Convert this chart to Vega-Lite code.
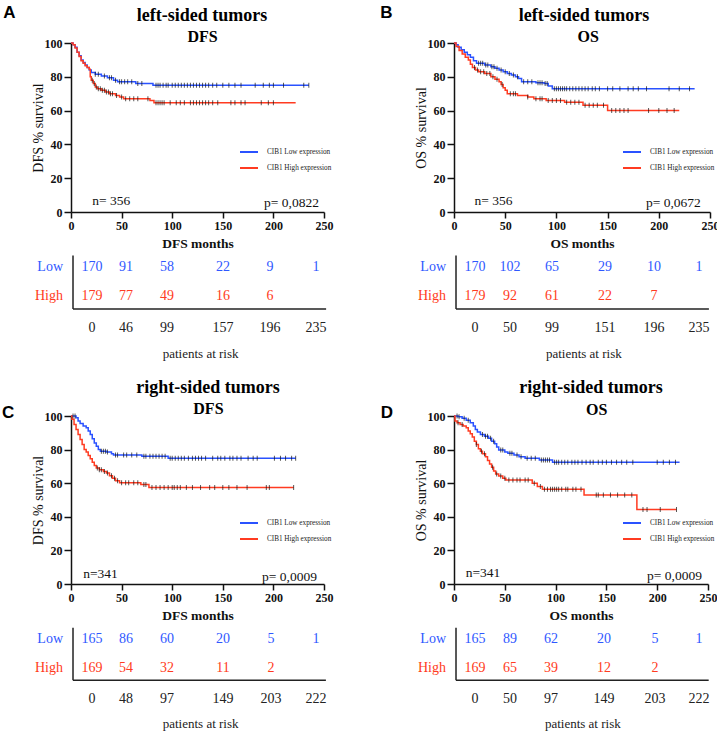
{
"$schema": "https://vega.github.io/schema/vega-lite/v6.json",
"padding": {"left": 2, "top": 4, "right": 0, "bottom": 0},
"background": "white",
"config": {
  "view": {"stroke": null},
  "axis": {"labelFont": "Liberation Serif", "labelFontWeight": "bold", "labelFontSize": 12, "labelColor": "#111", "domainColor": "#111", "tickColor": "#111", "domainWidth": 1.5, "tickWidth": 1.5, "grid": false, "titleFont": "Liberation Serif", "titleColor": "#111", "labelFlush": false, "labelOverlap": false}
},
"datasets": {
"km": [
{"p":"A","g":"Low","t":0,"s":100},{"p":"A","g":"Low","t":2,"s":99},{"p":"A","g":"Low","t":4,"s":97.5},{"p":"A","g":"Low","t":6,"s":94.5},{"p":"A","g":"Low","t":8,"s":92.5},{"p":"A","g":"Low","t":10,"s":90},{"p":"A","g":"Low","t":12,"s":88.5},{"p":"A","g":"Low","t":14,"s":87},{"p":"A","g":"Low","t":16,"s":85.5},{"p":"A","g":"Low","t":18,"s":84},{"p":"A","g":"Low","t":20,"s":82.5},{"p":"A","g":"Low","t":24,"s":81.5},{"p":"A","g":"Low","t":30,"s":80.5},{"p":"A","g":"Low","t":36,"s":79.5},{"p":"A","g":"Low","t":42,"s":78},{"p":"A","g":"Low","t":46,"s":77},{"p":"A","g":"Low","t":64,"s":76},{"p":"A","g":"Low","t":81,"s":75},{"p":"A","g":"Low","t":235,"s":75},
{"p":"A","g":"High","t":0,"s":100},{"p":"A","g":"High","t":2,"s":99},{"p":"A","g":"High","t":4,"s":97},{"p":"A","g":"High","t":6,"s":94.5},{"p":"A","g":"High","t":8,"s":92},{"p":"A","g":"High","t":10,"s":89.5},{"p":"A","g":"High","t":12,"s":88},{"p":"A","g":"High","t":14,"s":86.5},{"p":"A","g":"High","t":16,"s":85.5},{"p":"A","g":"High","t":18,"s":84.5},{"p":"A","g":"High","t":19,"s":80},{"p":"A","g":"High","t":20,"s":78},{"p":"A","g":"High","t":22,"s":76},{"p":"A","g":"High","t":24,"s":74},{"p":"A","g":"High","t":26,"s":73},{"p":"A","g":"High","t":30,"s":72},{"p":"A","g":"High","t":34,"s":71},{"p":"A","g":"High","t":38,"s":70},{"p":"A","g":"High","t":44,"s":69},{"p":"A","g":"High","t":48,"s":68},{"p":"A","g":"High","t":52,"s":67},{"p":"A","g":"High","t":78,"s":66},{"p":"A","g":"High","t":82,"s":64.6},{"p":"A","g":"High","t":222,"s":64.6},
{"p":"B","g":"Low","t":0,"s":100},{"p":"B","g":"Low","t":2,"s":99},{"p":"B","g":"Low","t":4,"s":97.5},{"p":"B","g":"Low","t":7,"s":96},{"p":"B","g":"Low","t":10,"s":94.5},{"p":"B","g":"Low","t":13,"s":93},{"p":"B","g":"Low","t":16,"s":91.5},{"p":"B","g":"Low","t":19,"s":89.5},{"p":"B","g":"Low","t":22,"s":88},{"p":"B","g":"Low","t":30,"s":87},{"p":"B","g":"Low","t":36,"s":86},{"p":"B","g":"Low","t":40,"s":85},{"p":"B","g":"Low","t":44,"s":84},{"p":"B","g":"Low","t":48,"s":83},{"p":"B","g":"Low","t":52,"s":82},{"p":"B","g":"Low","t":56,"s":81},{"p":"B","g":"Low","t":60,"s":80},{"p":"B","g":"Low","t":63,"s":79},{"p":"B","g":"Low","t":66,"s":77},{"p":"B","g":"Low","t":80,"s":76.5},{"p":"B","g":"Low","t":88,"s":76},{"p":"B","g":"Low","t":92,"s":74.5},{"p":"B","g":"Low","t":96,"s":73},{"p":"B","g":"Low","t":235,"s":73},
{"p":"B","g":"High","t":0,"s":100},{"p":"B","g":"High","t":2,"s":98},{"p":"B","g":"High","t":5,"s":95.5},{"p":"B","g":"High","t":8,"s":93.5},{"p":"B","g":"High","t":11,"s":91.5},{"p":"B","g":"High","t":14,"s":90},{"p":"B","g":"High","t":16,"s":87.5},{"p":"B","g":"High","t":18,"s":85.5},{"p":"B","g":"High","t":21,"s":84},{"p":"B","g":"High","t":24,"s":83},{"p":"B","g":"High","t":30,"s":82},{"p":"B","g":"High","t":36,"s":80},{"p":"B","g":"High","t":40,"s":78.5},{"p":"B","g":"High","t":44,"s":77},{"p":"B","g":"High","t":46,"s":75.5},{"p":"B","g":"High","t":48,"s":73.5},{"p":"B","g":"High","t":50,"s":72},{"p":"B","g":"High","t":52,"s":70},{"p":"B","g":"High","t":62,"s":69},{"p":"B","g":"High","t":72,"s":68},{"p":"B","g":"High","t":78,"s":67},{"p":"B","g":"High","t":90,"s":66},{"p":"B","g":"High","t":108,"s":65},{"p":"B","g":"High","t":126,"s":63.2},{"p":"B","g":"High","t":150,"s":60},{"p":"B","g":"High","t":220,"s":60},
{"p":"C","g":"Low","t":0,"s":100},{"p":"C","g":"Low","t":5,"s":99},{"p":"C","g":"Low","t":7,"s":97},{"p":"C","g":"Low","t":9,"s":95.5},{"p":"C","g":"Low","t":12,"s":94},{"p":"C","g":"Low","t":15,"s":93},{"p":"C","g":"Low","t":17,"s":91},{"p":"C","g":"Low","t":19,"s":89},{"p":"C","g":"Low","t":21,"s":86.5},{"p":"C","g":"Low","t":23,"s":84},{"p":"C","g":"Low","t":25,"s":82},{"p":"C","g":"Low","t":27,"s":80},{"p":"C","g":"Low","t":29,"s":79},{"p":"C","g":"Low","t":35,"s":78.5},{"p":"C","g":"Low","t":40,"s":77.5},{"p":"C","g":"Low","t":42,"s":76.8},{"p":"C","g":"Low","t":70,"s":76},{"p":"C","g":"Low","t":96,"s":74.8},{"p":"C","g":"Low","t":222,"s":74.8},
{"p":"C","g":"High","t":0,"s":100},{"p":"C","g":"High","t":1,"s":98},{"p":"C","g":"High","t":3,"s":95},{"p":"C","g":"High","t":5,"s":92},{"p":"C","g":"High","t":7,"s":89},{"p":"C","g":"High","t":9,"s":86},{"p":"C","g":"High","t":11,"s":83},{"p":"C","g":"High","t":13,"s":80},{"p":"C","g":"High","t":15,"s":78.5},{"p":"C","g":"High","t":17,"s":76.5},{"p":"C","g":"High","t":19,"s":74.5},{"p":"C","g":"High","t":21,"s":72.5},{"p":"C","g":"High","t":23,"s":70.5},{"p":"C","g":"High","t":25,"s":69},{"p":"C","g":"High","t":28,"s":68},{"p":"C","g":"High","t":32,"s":67},{"p":"C","g":"High","t":35,"s":66},{"p":"C","g":"High","t":38,"s":64.5},{"p":"C","g":"High","t":41,"s":63},{"p":"C","g":"High","t":44,"s":61.5},{"p":"C","g":"High","t":48,"s":60.3},{"p":"C","g":"High","t":69,"s":59.3},{"p":"C","g":"High","t":77,"s":57.5},{"p":"C","g":"High","t":220,"s":57.5},
{"p":"D","g":"Low","t":0,"s":100},{"p":"D","g":"Low","t":4,"s":99.5},{"p":"D","g":"Low","t":8,"s":98.6},{"p":"D","g":"Low","t":12,"s":97.5},{"p":"D","g":"Low","t":16,"s":96},{"p":"D","g":"Low","t":19,"s":94},{"p":"D","g":"Low","t":21,"s":92},{"p":"D","g":"Low","t":23,"s":90.5},{"p":"D","g":"Low","t":26,"s":89},{"p":"D","g":"Low","t":30,"s":88},{"p":"D","g":"Low","t":34,"s":86.7},{"p":"D","g":"Low","t":37,"s":85},{"p":"D","g":"Low","t":40,"s":83.5},{"p":"D","g":"Low","t":42,"s":81.5},{"p":"D","g":"Low","t":44,"s":79.8},{"p":"D","g":"Low","t":50,"s":78.5},{"p":"D","g":"Low","t":53,"s":77.8},{"p":"D","g":"Low","t":59,"s":76.8},{"p":"D","g":"Low","t":64,"s":75.8},{"p":"D","g":"Low","t":70,"s":74.8},{"p":"D","g":"Low","t":84,"s":73.8},{"p":"D","g":"Low","t":97,"s":72.4},{"p":"D","g":"Low","t":222,"s":72.4},
{"p":"D","g":"High","t":0,"s":100},{"p":"D","g":"High","t":1,"s":97},{"p":"D","g":"High","t":3,"s":96},{"p":"D","g":"High","t":6,"s":95},{"p":"D","g":"High","t":9,"s":94},{"p":"D","g":"High","t":12,"s":93},{"p":"D","g":"High","t":14,"s":91},{"p":"D","g":"High","t":16,"s":89.5},{"p":"D","g":"High","t":18,"s":87.5},{"p":"D","g":"High","t":20,"s":85},{"p":"D","g":"High","t":22,"s":83},{"p":"D","g":"High","t":24,"s":80.5},{"p":"D","g":"High","t":26,"s":79},{"p":"D","g":"High","t":28,"s":77.5},{"p":"D","g":"High","t":31,"s":75.8},{"p":"D","g":"High","t":33,"s":73.5},{"p":"D","g":"High","t":35,"s":71.5},{"p":"D","g":"High","t":37,"s":69.5},{"p":"D","g":"High","t":39,"s":67.3},{"p":"D","g":"High","t":41,"s":65.5},{"p":"D","g":"High","t":44,"s":64.3},{"p":"D","g":"High","t":48,"s":63},{"p":"D","g":"High","t":51,"s":61.9},{"p":"D","g":"High","t":77,"s":60},{"p":"D","g":"High","t":82,"s":58},{"p":"D","g":"High","t":87,"s":56.4},{"p":"D","g":"High","t":128,"s":53},{"p":"D","g":"High","t":180,"s":44.4},{"p":"D","g":"High","t":219,"s":44.4}
],
"cens": [
{"p":"A","t":24,"s":81.5},{"p":"A","t":27,"s":81.5},{"p":"A","t":33,"s":80.5},{"p":"A","t":38,"s":79.5},{"p":"A","t":40,"s":79.5},{"p":"A","t":44,"s":78},{"p":"A","t":48,"s":77},{"p":"A","t":50,"s":77},{"p":"A","t":53,"s":77},{"p":"A","t":56,"s":77},{"p":"A","t":60,"s":77},{"p":"A","t":66,"s":76},{"p":"A","t":70,"s":76},{"p":"A","t":84,"s":75},{"p":"A","t":86,"s":75},{"p":"A","t":88,"s":75},{"p":"A","t":91,"s":75},{"p":"A","t":94,"s":75},{"p":"A","t":96,"s":75},{"p":"A","t":100,"s":75},{"p":"A","t":103,"s":75},{"p":"A","t":106,"s":75},{"p":"A","t":109,"s":75},{"p":"A","t":112,"s":75},{"p":"A","t":115,"s":75},{"p":"A","t":118,"s":75},{"p":"A","t":121,"s":75},{"p":"A","t":124,"s":75},{"p":"A","t":127,"s":75},{"p":"A","t":130,"s":75},{"p":"A","t":133,"s":75},{"p":"A","t":136,"s":75},{"p":"A","t":140,"s":75},{"p":"A","t":144,"s":75},{"p":"A","t":150,"s":75},{"p":"A","t":156,"s":75},{"p":"A","t":162,"s":75},{"p":"A","t":168,"s":75},{"p":"A","t":182,"s":75},{"p":"A","t":190,"s":75},{"p":"A","t":196,"s":75},{"p":"A","t":200,"s":75},{"p":"A","t":210,"s":75},{"p":"A","t":230,"s":75},{"p":"A","t":235,"s":75},
{"p":"A","t":21,"s":78},{"p":"A","t":23,"s":76},{"p":"A","t":25,"s":74},{"p":"A","t":27,"s":73},{"p":"A","t":29,"s":73},{"p":"A","t":31,"s":72},{"p":"A","t":33,"s":72},{"p":"A","t":35,"s":71},{"p":"A","t":37,"s":71},{"p":"A","t":39,"s":70},{"p":"A","t":41,"s":70},{"p":"A","t":45,"s":69},{"p":"A","t":50,"s":68},{"p":"A","t":54,"s":67},{"p":"A","t":58,"s":67},{"p":"A","t":62,"s":67},{"p":"A","t":66,"s":67},{"p":"A","t":76,"s":67},{"p":"A","t":84,"s":64.6},{"p":"A","t":86,"s":64.6},{"p":"A","t":88,"s":64.6},{"p":"A","t":90,"s":64.6},{"p":"A","t":92,"s":64.6},{"p":"A","t":98,"s":64.6},{"p":"A","t":104,"s":64.6},{"p":"A","t":108,"s":64.6},{"p":"A","t":112,"s":64.6},{"p":"A","t":118,"s":64.6},{"p":"A","t":121,"s":64.6},{"p":"A","t":124,"s":64.6},{"p":"A","t":127,"s":64.6},{"p":"A","t":130,"s":64.6},{"p":"A","t":133,"s":64.6},{"p":"A","t":136,"s":64.6},{"p":"A","t":140,"s":64.6},{"p":"A","t":145,"s":64.6},{"p":"A","t":158,"s":64.6},{"p":"A","t":162,"s":64.6},{"p":"A","t":168,"s":64.6},{"p":"A","t":172,"s":64.6},{"p":"A","t":188,"s":64.6},{"p":"A","t":195,"s":64.6},{"p":"A","t":200,"s":64.6},
{"p":"B","t":24,"s":88},{"p":"B","t":26,"s":88},{"p":"B","t":28,"s":88},{"p":"B","t":31,"s":87},{"p":"B","t":33,"s":87},{"p":"B","t":37,"s":86},{"p":"B","t":39,"s":86},{"p":"B","t":42,"s":85},{"p":"B","t":46,"s":84},{"p":"B","t":50,"s":83},{"p":"B","t":54,"s":82},{"p":"B","t":58,"s":81},{"p":"B","t":62,"s":80},{"p":"B","t":68,"s":77},{"p":"B","t":72,"s":77},{"p":"B","t":76,"s":77},{"p":"B","t":82,"s":76.5},{"p":"B","t":84,"s":76.5},{"p":"B","t":86,"s":76.5},{"p":"B","t":89,"s":76},{"p":"B","t":91,"s":76},{"p":"B","t":98,"s":73},{"p":"B","t":100,"s":73},{"p":"B","t":102,"s":73},{"p":"B","t":104,"s":73},{"p":"B","t":106,"s":73},{"p":"B","t":108,"s":73},{"p":"B","t":110,"s":73},{"p":"B","t":113,"s":73},{"p":"B","t":116,"s":73},{"p":"B","t":119,"s":73},{"p":"B","t":122,"s":73},{"p":"B","t":125,"s":73},{"p":"B","t":128,"s":73},{"p":"B","t":131,"s":73},{"p":"B","t":135,"s":73},{"p":"B","t":138,"s":73},{"p":"B","t":142,"s":73},{"p":"B","t":150,"s":73},{"p":"B","t":155,"s":73},{"p":"B","t":162,"s":73},{"p":"B","t":170,"s":73},{"p":"B","t":175,"s":73},{"p":"B","t":180,"s":73},{"p":"B","t":188,"s":73},{"p":"B","t":210,"s":73},{"p":"B","t":220,"s":73},{"p":"B","t":230,"s":73},
{"p":"B","t":20,"s":85.5},{"p":"B","t":23,"s":84},{"p":"B","t":26,"s":83},{"p":"B","t":29,"s":83},{"p":"B","t":32,"s":82},{"p":"B","t":35,"s":82},{"p":"B","t":38,"s":80},{"p":"B","t":42,"s":78.5},{"p":"B","t":47,"s":75.5},{"p":"B","t":55,"s":70},{"p":"B","t":58,"s":70},{"p":"B","t":60,"s":70},{"p":"B","t":72,"s":68},{"p":"B","t":80,"s":67},{"p":"B","t":84,"s":67},{"p":"B","t":86,"s":67},{"p":"B","t":92,"s":66},{"p":"B","t":96,"s":66},{"p":"B","t":100,"s":66},{"p":"B","t":104,"s":66},{"p":"B","t":110,"s":65},{"p":"B","t":114,"s":65},{"p":"B","t":118,"s":65},{"p":"B","t":122,"s":65},{"p":"B","t":128,"s":63.2},{"p":"B","t":132,"s":63.2},{"p":"B","t":136,"s":63.2},{"p":"B","t":140,"s":63.2},{"p":"B","t":146,"s":63.2},{"p":"B","t":154,"s":60},{"p":"B","t":158,"s":60},{"p":"B","t":162,"s":60},{"p":"B","t":166,"s":60},{"p":"B","t":170,"s":60},{"p":"B","t":190,"s":60},{"p":"B","t":200,"s":60},{"p":"B","t":208,"s":60},{"p":"B","t":215,"s":60},
{"p":"C","t":2,"s":100},{"p":"C","t":4,"s":100},{"p":"C","t":30,"s":79},{"p":"C","t":32,"s":79},{"p":"C","t":34,"s":79},{"p":"C","t":36,"s":78.5},{"p":"C","t":44,"s":76.8},{"p":"C","t":46,"s":76.8},{"p":"C","t":52,"s":76.8},{"p":"C","t":55,"s":76.8},{"p":"C","t":60,"s":76.8},{"p":"C","t":65,"s":76.8},{"p":"C","t":72,"s":76},{"p":"C","t":74,"s":76},{"p":"C","t":78,"s":76},{"p":"C","t":81,"s":76},{"p":"C","t":84,"s":76},{"p":"C","t":87,"s":76},{"p":"C","t":90,"s":76},{"p":"C","t":93,"s":76},{"p":"C","t":98,"s":74.8},{"p":"C","t":100,"s":74.8},{"p":"C","t":103,"s":74.8},{"p":"C","t":106,"s":74.8},{"p":"C","t":109,"s":74.8},{"p":"C","t":112,"s":74.8},{"p":"C","t":116,"s":74.8},{"p":"C","t":120,"s":74.8},{"p":"C","t":123,"s":74.8},{"p":"C","t":126,"s":74.8},{"p":"C","t":129,"s":74.8},{"p":"C","t":133,"s":74.8},{"p":"C","t":140,"s":74.8},{"p":"C","t":145,"s":74.8},{"p":"C","t":148,"s":74.8},{"p":"C","t":152,"s":74.8},{"p":"C","t":157,"s":74.8},{"p":"C","t":160,"s":74.8},{"p":"C","t":164,"s":74.8},{"p":"C","t":168,"s":74.8},{"p":"C","t":175,"s":74.8},{"p":"C","t":180,"s":74.8},{"p":"C","t":184,"s":74.8},{"p":"C","t":201,"s":74.8},{"p":"C","t":207,"s":74.8},{"p":"C","t":212,"s":74.8},{"p":"C","t":218,"s":74.8},{"p":"C","t":222,"s":74.8},
{"p":"C","t":26,"s":69},{"p":"C","t":28,"s":68},{"p":"C","t":30,"s":68},{"p":"C","t":33,"s":67},{"p":"C","t":36,"s":66},{"p":"C","t":40,"s":64.5},{"p":"C","t":43,"s":63},{"p":"C","t":46,"s":61.5},{"p":"C","t":50,"s":60.3},{"p":"C","t":54,"s":60.3},{"p":"C","t":57,"s":60.3},{"p":"C","t":62,"s":60.3},{"p":"C","t":66,"s":60.3},{"p":"C","t":72,"s":59.3},{"p":"C","t":74,"s":59.3},{"p":"C","t":80,"s":57.5},{"p":"C","t":84,"s":57.5},{"p":"C","t":88,"s":57.5},{"p":"C","t":92,"s":57.5},{"p":"C","t":96,"s":57.5},{"p":"C","t":100,"s":57.5},{"p":"C","t":102,"s":57.5},{"p":"C","t":105,"s":57.5},{"p":"C","t":108,"s":57.5},{"p":"C","t":114,"s":57.5},{"p":"C","t":120,"s":57.5},{"p":"C","t":128,"s":57.5},{"p":"C","t":137,"s":57.5},{"p":"C","t":142,"s":57.5},{"p":"C","t":150,"s":57.5},{"p":"C","t":156,"s":57.5},{"p":"C","t":164,"s":57.5},{"p":"C","t":174,"s":57.5},{"p":"C","t":193,"s":57.5},{"p":"C","t":196,"s":57.5},{"p":"C","t":220,"s":57.5},
{"p":"D","t":3,"s":100},{"p":"D","t":5,"s":99.5},{"p":"D","t":10,"s":98.6},{"p":"D","t":14,"s":97.5},{"p":"D","t":28,"s":89},{"p":"D","t":31,"s":88},{"p":"D","t":33,"s":88},{"p":"D","t":36,"s":86.7},{"p":"D","t":39,"s":85},{"p":"D","t":46,"s":79.8},{"p":"D","t":48,"s":79.8},{"p":"D","t":55,"s":77.8},{"p":"D","t":57,"s":77.8},{"p":"D","t":62,"s":76.8},{"p":"D","t":66,"s":75.8},{"p":"D","t":72,"s":74.8},{"p":"D","t":76,"s":74.8},{"p":"D","t":80,"s":74.8},{"p":"D","t":86,"s":73.8},{"p":"D","t":88,"s":73.8},{"p":"D","t":90,"s":73.8},{"p":"D","t":92,"s":73.8},{"p":"D","t":94,"s":73.8},{"p":"D","t":99,"s":72.4},{"p":"D","t":101,"s":72.4},{"p":"D","t":103,"s":72.4},{"p":"D","t":106,"s":72.4},{"p":"D","t":109,"s":72.4},{"p":"D","t":112,"s":72.4},{"p":"D","t":116,"s":72.4},{"p":"D","t":119,"s":72.4},{"p":"D","t":122,"s":72.4},{"p":"D","t":126,"s":72.4},{"p":"D","t":130,"s":72.4},{"p":"D","t":134,"s":72.4},{"p":"D","t":137,"s":72.4},{"p":"D","t":142,"s":72.4},{"p":"D","t":146,"s":72.4},{"p":"D","t":150,"s":72.4},{"p":"D","t":155,"s":72.4},{"p":"D","t":160,"s":72.4},{"p":"D","t":165,"s":72.4},{"p":"D","t":170,"s":72.4},{"p":"D","t":176,"s":72.4},{"p":"D","t":200,"s":72.4},{"p":"D","t":206,"s":72.4},{"p":"D","t":212,"s":72.4},{"p":"D","t":218,"s":72.4},
{"p":"D","t":4,"s":96},{"p":"D","t":8,"s":95},{"p":"D","t":22,"s":83},{"p":"D","t":27,"s":79},{"p":"D","t":30,"s":77.5},{"p":"D","t":38,"s":69.5},{"p":"D","t":42,"s":65.5},{"p":"D","t":46,"s":64.3},{"p":"D","t":50,"s":63},{"p":"D","t":54,"s":61.9},{"p":"D","t":58,"s":61.9},{"p":"D","t":62,"s":61.9},{"p":"D","t":65,"s":61.9},{"p":"D","t":70,"s":61.9},{"p":"D","t":73,"s":61.9},{"p":"D","t":79,"s":60},{"p":"D","t":85,"s":58},{"p":"D","t":89,"s":56.4},{"p":"D","t":92,"s":56.4},{"p":"D","t":95,"s":56.4},{"p":"D","t":97,"s":56.4},{"p":"D","t":99,"s":56.4},{"p":"D","t":101,"s":56.4},{"p":"D","t":103,"s":56.4},{"p":"D","t":106,"s":56.4},{"p":"D","t":110,"s":56.4},{"p":"D","t":112,"s":56.4},{"p":"D","t":117,"s":56.4},{"p":"D","t":120,"s":56.4},{"p":"D","t":125,"s":56.4},{"p":"D","t":140,"s":53},{"p":"D","t":142,"s":53},{"p":"D","t":147,"s":53},{"p":"D","t":154,"s":53},{"p":"D","t":161,"s":53},{"p":"D","t":168,"s":53},{"p":"D","t":175,"s":53},{"p":"D","t":186,"s":44.4},{"p":"D","t":190,"s":44.4},{"p":"D","t":203,"s":44.4},{"p":"D","t":219,"s":44.4}
],
"risk": [
{"p":"A","row":"Low","r":1,"c":1,"n":170},{"p":"A","row":"Low","r":1,"c":2,"n":91},{"p":"A","row":"Low","r":1,"c":3,"n":58},{"p":"A","row":"Low","r":1,"c":4,"n":22},{"p":"A","row":"Low","r":1,"c":5,"n":9},{"p":"A","row":"Low","r":1,"c":6,"n":1},
{"p":"A","row":"High","r":2,"c":1,"n":179},{"p":"A","row":"High","r":2,"c":2,"n":77},{"p":"A","row":"High","r":2,"c":3,"n":49},{"p":"A","row":"High","r":2,"c":4,"n":16},{"p":"A","row":"High","r":2,"c":5,"n":6},
{"p":"A","row":"time","r":3,"c":1,"n":0},{"p":"A","row":"time","r":3,"c":2,"n":46},{"p":"A","row":"time","r":3,"c":3,"n":99},{"p":"A","row":"time","r":3,"c":4,"n":157},{"p":"A","row":"time","r":3,"c":5,"n":196},{"p":"A","row":"time","r":3,"c":6,"n":235},
{"p":"B","row":"Low","r":1,"c":1,"n":170},{"p":"B","row":"Low","r":1,"c":2,"n":102},{"p":"B","row":"Low","r":1,"c":3,"n":65},{"p":"B","row":"Low","r":1,"c":4,"n":29},{"p":"B","row":"Low","r":1,"c":5,"n":10},{"p":"B","row":"Low","r":1,"c":6,"n":1},
{"p":"B","row":"High","r":2,"c":1,"n":179},{"p":"B","row":"High","r":2,"c":2,"n":92},{"p":"B","row":"High","r":2,"c":3,"n":61},{"p":"B","row":"High","r":2,"c":4,"n":22},{"p":"B","row":"High","r":2,"c":5,"n":7},
{"p":"B","row":"time","r":3,"c":1,"n":0},{"p":"B","row":"time","r":3,"c":2,"n":50},{"p":"B","row":"time","r":3,"c":3,"n":99},{"p":"B","row":"time","r":3,"c":4,"n":151},{"p":"B","row":"time","r":3,"c":5,"n":196},{"p":"B","row":"time","r":3,"c":6,"n":235},
{"p":"C","row":"Low","r":1,"c":1,"n":165},{"p":"C","row":"Low","r":1,"c":2,"n":86},{"p":"C","row":"Low","r":1,"c":3,"n":60},{"p":"C","row":"Low","r":1,"c":4,"n":20},{"p":"C","row":"Low","r":1,"c":5,"n":5},{"p":"C","row":"Low","r":1,"c":6,"n":1},
{"p":"C","row":"High","r":2,"c":1,"n":169},{"p":"C","row":"High","r":2,"c":2,"n":54},{"p":"C","row":"High","r":2,"c":3,"n":32},{"p":"C","row":"High","r":2,"c":4,"n":11},{"p":"C","row":"High","r":2,"c":5,"n":2},
{"p":"C","row":"time","r":3,"c":1,"n":0},{"p":"C","row":"time","r":3,"c":2,"n":48},{"p":"C","row":"time","r":3,"c":3,"n":97},{"p":"C","row":"time","r":3,"c":4,"n":149},{"p":"C","row":"time","r":3,"c":5,"n":203},{"p":"C","row":"time","r":3,"c":6,"n":222},
{"p":"D","row":"Low","r":1,"c":1,"n":165},{"p":"D","row":"Low","r":1,"c":2,"n":89},{"p":"D","row":"Low","r":1,"c":3,"n":62},{"p":"D","row":"Low","r":1,"c":4,"n":20},{"p":"D","row":"Low","r":1,"c":5,"n":5},{"p":"D","row":"Low","r":1,"c":6,"n":1},
{"p":"D","row":"High","r":2,"c":1,"n":169},{"p":"D","row":"High","r":2,"c":2,"n":65},{"p":"D","row":"High","r":2,"c":3,"n":39},{"p":"D","row":"High","r":2,"c":4,"n":12},{"p":"D","row":"High","r":2,"c":5,"n":2},
{"p":"D","row":"time","r":3,"c":1,"n":0},{"p":"D","row":"time","r":3,"c":2,"n":50},{"p":"D","row":"time","r":3,"c":3,"n":97},{"p":"D","row":"time","r":3,"c":4,"n":149},{"p":"D","row":"time","r":3,"c":5,"n":203},{"p":"D","row":"time","r":3,"c":6,"n":222}
]
},
"spacing": 7,
"resolve": {"scale": {"color": "independent"}, "legend": {"color": "independent"}},
"vconcat": [
{"hconcat": [
 {"spacing": 1, "resolve": {"scale": {"color": "independent"}, "legend": {"color": "independent"}},
  "vconcat": [
  {"width": 253, "height": 169,
   "layer": [
    {"data": {"name": "km"}, "transform": [{"filter": "datum.p == 'A'"}],
     "mark": {"type": "line", "interpolate": "step-after", "strokeWidth": 1.5},
     "encoding": {
      "x": {"field": "t", "type": "quantitative", "scale": {"domain": [0, 250], "nice": false}, "axis": {"values": [0, 50, 100, 150, 200, 250], "title": "DFS months", "labelOverlap": false, "labelFlush": false, "labelFont": "Liberation Serif", "labelFontWeight": "bold", "labelFontSize": 12, "titleFont": "Liberation Serif", "titleFontWeight": "bold", "titleFontSize": 13.5, "titlePadding": 5, "labelPadding": 2, "tickSize": 6}},
      "y": {"field": "s", "type": "quantitative", "scale": {"domain": [0, 100], "nice": false}, "axis": {"values": [0, 20, 40, 60, 80, 100], "tickCount": 6, "title": "DFS % survival", "labelOverlap": false, "labelFlush": false, "labelFont": "Liberation Serif", "labelFontWeight": "bold", "labelFontSize": 12, "titleFont": "Liberation Serif", "titleFontWeight": "normal", "titleFontSize": 14, "titlePadding": -1, "labelPadding": 2, "tickSize": 7}},
      "color": {"field": "g", "type": "nominal", "scale": {"domain": ["Low", "High"], "range": ["#2a52ff", "#ff3b21"]}, "legend": {"orient": "none", "legendX": 168, "legendY": 99, "title": null, "symbolType": "stroke", "symbolSize": 324, "symbolStrokeWidth": 2, "labelFont": "Liberation Serif", "labelFontSize": 7.2, "labelColor": "#222", "rowPadding": 2, "padding": 0, "labelOffset": 8, "labelExpr": "datum.label == 'Low' ? 'CIB1 Low expression' : 'CIB1 High expression'"}}
     }},
    {"data": {"name": "cens"}, "transform": [{"filter": "datum.p == 'A'"}],
     "mark": {"type": "tick", "orient": "vertical", "color": "#111", "size": 5, "thickness": 1},
     "encoding": {"x": {"field": "t", "type": "quantitative"}, "y": {"field": "s", "type": "quantitative"}}},
    {"data": {"values": [{}]}, "mark": {"type": "text", "font": "Liberation Serif", "fontSize": 18, "fontWeight": "bold", "align": "center", "baseline": "middle", "color": "#000"},
     "encoding": {"x": {"datum": 129.5, "type": "quantitative"}, "y": {"datum": 116.2, "type": "quantitative"}, "text": {"value": "left-sided tumors"}}},
    {"data": {"values": [{}]}, "mark": {"type": "text", "font": "Liberation Serif", "fontSize": 16, "fontWeight": "bold", "align": "center", "baseline": "middle", "color": "#000"},
     "encoding": {"x": {"datum": 130, "type": "quantitative"}, "y": {"datum": 103.7, "type": "quantitative"}, "text": {"value": "DFS"}}},
    {"data": {"values": [{}]}, "mark": {"type": "text", "font": "Liberation Serif", "fontSize": 13.5, "align": "left", "baseline": "middle", "color": "#111"},
     "encoding": {"x": {"datum": 21, "type": "quantitative"}, "y": {"datum": 6.5, "type": "quantitative"}, "text": {"value": "n= 356"}}},
    {"data": {"values": [{}]}, "mark": {"type": "text", "font": "Liberation Serif", "fontSize": 13.5, "align": "right", "baseline": "middle", "color": "#111"},
     "encoding": {"x": {"datum": 245, "type": "quantitative"}, "y": {"datum": 5.5, "type": "quantitative"}, "text": {"value": "p= 0,0822"}}},
    {"data": {"values": [{}]}, "mark": {"type": "text", "font": "Liberation Sans", "fontSize": 17, "fontWeight": "bold", "align": "center", "baseline": "middle", "color": "#000"},
     "encoding": {"x": {"datum": -61, "type": "quantitative"}, "y": {"datum": 117.7, "type": "quantitative"}, "text": {"value": "A"}}}
   ]},
  {"width": 253, "height": 120,
   "layer": [
    {"data": {"name": "risk"}, "transform": [{"filter": "datum.p == 'A'"}],
     "mark": {"type": "text", "font": "Liberation Serif", "fontSize": 14, "align": "center", "baseline": "middle"},
     "encoding": {
      "x": {"field": "c", "type": "quantitative", "scale": {"domain": [0, 1, 2, 3, 4, 5, 6], "range": [-8, 21, 55, 96, 152, 199, 245], "nice": false, "zero": false}, "axis": null},
      "y": {"field": "r", "type": "quantitative", "scale": {"domain": [1, 2, 3, 4], "range": [15.5, 45, 77, 103], "nice": false, "zero": false}, "axis": null},
      "color": {"field": "row", "type": "nominal", "scale": {"domain": ["Low", "High", "time"], "range": ["#2f58ff", "#ff3b21", "#222"]}, "legend": null},
      "text": {"field": "n", "type": "nominal"}}},
    {"data": {"name": "risk"}, "transform": [{"filter": "datum.p == 'A' && datum.c == 1 && datum.row != 'time'"}],
     "mark": {"type": "text", "font": "Liberation Serif", "fontSize": 14, "align": "right", "baseline": "middle"},
     "encoding": {"x": {"datum": 0, "type": "quantitative"}, "y": {"field": "r", "type": "quantitative"}, "color": {"field": "row", "type": "nominal", "legend": null}, "text": {"field": "row", "type": "nominal"}}},
    {"data": {"values": [{}]}, "mark": {"type": "rule", "color": "#222", "strokeWidth": 1.5},
     "encoding": {"x": {"datum": 0.345, "type": "quantitative"}, "y": {"datum": 0.63, "type": "quantitative"}, "y2": {"datum": 2.41}}},
    {"data": {"values": [{}]}, "mark": {"type": "rule", "color": "#222", "strokeWidth": 1.5},
     "encoding": {"x": {"datum": 0.345, "type": "quantitative"}, "x2": {"datum": 6.22}, "y": {"datum": 2.41, "type": "quantitative"}}},
    {"data": {"values": [{}]}, "mark": {"type": "text", "font": "Liberation Serif", "fontSize": 13, "align": "center", "baseline": "middle", "color": "#222"},
     "encoding": {"x": {"datum": 3.6, "type": "quantitative"}, "y": {"datum": 4, "type": "quantitative"}, "text": {"value": "patients at risk"}}}
   ]}
 ]},
 {"spacing": 1, "resolve": {"scale": {"color": "independent"}, "legend": {"color": "independent"}},
  "vconcat": [
  {"width": 256, "height": 169,
   "layer": [
    {"data": {"name": "km"}, "transform": [{"filter": "datum.p == 'B'"}],
     "mark": {"type": "line", "interpolate": "step-after", "strokeWidth": 1.5},
     "encoding": {
      "x": {"field": "t", "type": "quantitative", "scale": {"domain": [0, 250], "nice": false}, "axis": {"values": [0, 50, 100, 150, 200, 250], "title": "OS months", "labelOverlap": false, "labelFlush": false, "labelFont": "Liberation Serif", "labelFontWeight": "bold", "labelFontSize": 12, "titleFont": "Liberation Serif", "titleFontWeight": "bold", "titleFontSize": 13.5, "titlePadding": 5, "labelPadding": 2, "tickSize": 6}},
      "y": {"field": "s", "type": "quantitative", "scale": {"domain": [0, 100], "nice": false}, "axis": {"values": [0, 20, 40, 60, 80, 100], "tickCount": 6, "title": "OS % survival", "labelOverlap": false, "labelFlush": false, "labelFont": "Liberation Serif", "labelFontWeight": "bold", "labelFontSize": 12, "titleFont": "Liberation Serif", "titleFontWeight": "normal", "titleFontSize": 14, "titlePadding": -1, "labelPadding": 2, "tickSize": 7}},
      "color": {"field": "g", "type": "nominal", "scale": {"domain": ["Low", "High"], "range": ["#2a52ff", "#ff3b21"]}, "legend": {"orient": "none", "legendX": 168, "legendY": 99, "title": null, "symbolType": "stroke", "symbolSize": 324, "symbolStrokeWidth": 2, "labelFont": "Liberation Serif", "labelFontSize": 7.2, "labelColor": "#222", "rowPadding": 2, "padding": 0, "labelOffset": 8, "labelExpr": "datum.label == 'Low' ? 'CIB1 Low expression' : 'CIB1 High expression'"}}
     }},
    {"data": {"name": "cens"}, "transform": [{"filter": "datum.p == 'B'"}],
     "mark": {"type": "tick", "orient": "vertical", "color": "#111", "size": 5, "thickness": 1},
     "encoding": {"x": {"field": "t", "type": "quantitative"}, "y": {"field": "s", "type": "quantitative"}}},
    {"data": {"values": [{}]}, "mark": {"type": "text", "font": "Liberation Serif", "fontSize": 18, "fontWeight": "bold", "align": "center", "baseline": "middle", "color": "#000"},
     "encoding": {"x": {"datum": 127, "type": "quantitative"}, "y": {"datum": 116.2, "type": "quantitative"}, "text": {"value": "left-sided tumors"}}},
    {"data": {"values": [{}]}, "mark": {"type": "text", "font": "Liberation Serif", "fontSize": 16, "fontWeight": "bold", "align": "center", "baseline": "middle", "color": "#000"},
     "encoding": {"x": {"datum": 131, "type": "quantitative"}, "y": {"datum": 103.7, "type": "quantitative"}, "text": {"value": "OS"}}},
    {"data": {"values": [{}]}, "mark": {"type": "text", "font": "Liberation Serif", "fontSize": 13.5, "align": "left", "baseline": "middle", "color": "#111"},
     "encoding": {"x": {"datum": 20, "type": "quantitative"}, "y": {"datum": 6.5, "type": "quantitative"}, "text": {"value": "n= 356"}}},
    {"data": {"values": [{}]}, "mark": {"type": "text", "font": "Liberation Serif", "fontSize": 13.5, "align": "right", "baseline": "middle", "color": "#111"},
     "encoding": {"x": {"datum": 241, "type": "quantitative"}, "y": {"datum": 5.5, "type": "quantitative"}, "text": {"value": "p= 0,0672"}}},
    {"data": {"values": [{}]}, "mark": {"type": "text", "font": "Liberation Sans", "fontSize": 17, "fontWeight": "bold", "align": "center", "baseline": "middle", "color": "#000"},
     "encoding": {"x": {"datum": -66, "type": "quantitative"}, "y": {"datum": 117.7, "type": "quantitative"}, "text": {"value": "B"}}}
   ]},
  {"width": 256, "height": 120,
   "layer": [
    {"data": {"name": "risk"}, "transform": [{"filter": "datum.p == 'B'"}],
     "mark": {"type": "text", "font": "Liberation Serif", "fontSize": 14, "align": "center", "baseline": "middle"},
     "encoding": {
      "x": {"field": "c", "type": "quantitative", "scale": {"domain": [0, 1, 2, 3, 4, 5, 6], "range": [-8, 21, 56, 98, 151, 200, 245], "nice": false, "zero": false}, "axis": null},
      "y": {"field": "r", "type": "quantitative", "scale": {"domain": [1, 2, 3, 4], "range": [15.5, 45, 77, 103], "nice": false, "zero": false}, "axis": null},
      "color": {"field": "row", "type": "nominal", "scale": {"domain": ["Low", "High", "time"], "range": ["#2f58ff", "#ff3b21", "#222"]}, "legend": null},
      "text": {"field": "n", "type": "nominal"}}},
    {"data": {"name": "risk"}, "transform": [{"filter": "datum.p == 'B' && datum.c == 1 && datum.row != 'time'"}],
     "mark": {"type": "text", "font": "Liberation Serif", "fontSize": 14, "align": "right", "baseline": "middle"},
     "encoding": {"x": {"datum": 0, "type": "quantitative"}, "y": {"field": "r", "type": "quantitative"}, "color": {"field": "row", "type": "nominal", "legend": null}, "text": {"field": "row", "type": "nominal"}}},
    {"data": {"values": [{}]}, "mark": {"type": "rule", "color": "#222", "strokeWidth": 1.5},
     "encoding": {"x": {"datum": 0.345, "type": "quantitative"}, "y": {"datum": 0.63, "type": "quantitative"}, "y2": {"datum": 2.41}}},
    {"data": {"values": [{}]}, "mark": {"type": "rule", "color": "#222", "strokeWidth": 1.5},
     "encoding": {"x": {"datum": 0.345, "type": "quantitative"}, "x2": {"datum": 6.22}, "y": {"datum": 2.41, "type": "quantitative"}}},
    {"data": {"values": [{}]}, "mark": {"type": "text", "font": "Liberation Serif", "fontSize": 13, "align": "center", "baseline": "middle", "color": "#222"},
     "encoding": {"x": {"datum": 3.6, "type": "quantitative"}, "y": {"datum": 4, "type": "quantitative"}, "text": {"value": "patients at risk"}}}
   ]}
 ]}
], "spacing": 47, "resolve": {"scale": {"color": "independent"}, "legend": {"color": "independent"}}},
{"hconcat": [
 {"spacing": 1, "resolve": {"scale": {"color": "independent"}, "legend": {"color": "independent"}},
  "vconcat": [
  {"width": 253, "height": 168,
   "layer": [
    {"data": {"name": "km"}, "transform": [{"filter": "datum.p == 'C'"}],
     "mark": {"type": "line", "interpolate": "step-after", "strokeWidth": 1.5},
     "encoding": {
      "x": {"field": "t", "type": "quantitative", "scale": {"domain": [0, 250], "nice": false}, "axis": {"values": [0, 50, 100, 150, 200, 250], "title": "DFS months", "labelOverlap": false, "labelFlush": false, "labelFont": "Liberation Serif", "labelFontWeight": "bold", "labelFontSize": 12, "titleFont": "Liberation Serif", "titleFontWeight": "bold", "titleFontSize": 13.5, "titlePadding": 5, "labelPadding": 2, "tickSize": 6}},
      "y": {"field": "s", "type": "quantitative", "scale": {"domain": [0, 100], "nice": false}, "axis": {"values": [0, 20, 40, 60, 80, 100], "tickCount": 6, "title": "DFS % survival", "labelOverlap": false, "labelFlush": false, "labelFont": "Liberation Serif", "labelFontWeight": "bold", "labelFontSize": 12, "titleFont": "Liberation Serif", "titleFontWeight": "normal", "titleFontSize": 14, "titlePadding": -1, "labelPadding": 2, "tickSize": 7}},
      "color": {"field": "g", "type": "nominal", "scale": {"domain": ["Low", "High"], "range": ["#2a52ff", "#ff3b21"]}, "legend": {"orient": "none", "legendX": 168, "legendY": 97, "title": null, "symbolType": "stroke", "symbolSize": 324, "symbolStrokeWidth": 2, "labelFont": "Liberation Serif", "labelFontSize": 7.2, "labelColor": "#222", "rowPadding": 2, "padding": 0, "labelOffset": 8, "labelExpr": "datum.label == 'Low' ? 'CIB1 Low expression' : 'CIB1 High expression'"}}
     }},
    {"data": {"name": "cens"}, "transform": [{"filter": "datum.p == 'C'"}],
     "mark": {"type": "tick", "orient": "vertical", "color": "#111", "size": 5, "thickness": 1},
     "encoding": {"x": {"field": "t", "type": "quantitative"}, "y": {"field": "s", "type": "quantitative"}}},
    {"data": {"values": [{}]}, "mark": {"type": "text", "font": "Liberation Serif", "fontSize": 18, "fontWeight": "bold", "align": "center", "baseline": "middle", "color": "#000"},
     "encoding": {"x": {"datum": 135.4, "type": "quantitative"}, "y": {"datum": 116.7, "type": "quantitative"}, "text": {"value": "right-sided tumors"}}},
    {"data": {"values": [{}]}, "mark": {"type": "text", "font": "Liberation Serif", "fontSize": 16, "fontWeight": "bold", "align": "center", "baseline": "middle", "color": "#000"},
     "encoding": {"x": {"datum": 135.8, "type": "quantitative"}, "y": {"datum": 104.2, "type": "quantitative"}, "text": {"value": "DFS"}}},
    {"data": {"values": [{}]}, "mark": {"type": "text", "font": "Liberation Serif", "fontSize": 13.5, "align": "left", "baseline": "middle", "color": "#111"},
     "encoding": {"x": {"datum": 12, "type": "quantitative"}, "y": {"datum": 5.8, "type": "quantitative"}, "text": {"value": "n=341"}}},
    {"data": {"values": [{}]}, "mark": {"type": "text", "font": "Liberation Serif", "fontSize": 13.5, "align": "right", "baseline": "middle", "color": "#111"},
     "encoding": {"x": {"datum": 243, "type": "quantitative"}, "y": {"datum": 4.3, "type": "quantitative"}, "text": {"value": "p= 0,0009"}}},
    {"data": {"values": [{}]}, "mark": {"type": "text", "font": "Liberation Sans", "fontSize": 17, "fontWeight": "bold", "align": "center", "baseline": "middle", "color": "#000"},
     "encoding": {"x": {"datum": -62, "type": "quantitative"}, "y": {"datum": 102, "type": "quantitative"}, "text": {"value": "C"}}}
   ]},
  {"width": 253, "height": 120,
   "layer": [
    {"data": {"name": "risk"}, "transform": [{"filter": "datum.p == 'C'"}],
     "mark": {"type": "text", "font": "Liberation Serif", "fontSize": 14, "align": "center", "baseline": "middle"},
     "encoding": {
      "x": {"field": "c", "type": "quantitative", "scale": {"domain": [0, 1, 2, 3, 4, 5, 6], "range": [-8, 21, 55, 96, 152, 200, 245], "nice": false, "zero": false}, "axis": null},
      "y": {"field": "r", "type": "quantitative", "scale": {"domain": [1, 2, 3, 4], "range": [15.5, 44.5, 75.5, 100.5], "nice": false, "zero": false}, "axis": null},
      "color": {"field": "row", "type": "nominal", "scale": {"domain": ["Low", "High", "time"], "range": ["#2f58ff", "#ff3b21", "#222"]}, "legend": null},
      "text": {"field": "n", "type": "nominal"}}},
    {"data": {"name": "risk"}, "transform": [{"filter": "datum.p == 'C' && datum.c == 1 && datum.row != 'time'"}],
     "mark": {"type": "text", "font": "Liberation Serif", "fontSize": 14, "align": "right", "baseline": "middle"},
     "encoding": {"x": {"datum": 0, "type": "quantitative"}, "y": {"field": "r", "type": "quantitative"}, "color": {"field": "row", "type": "nominal", "legend": null}, "text": {"field": "row", "type": "nominal"}}},
    {"data": {"values": [{}]}, "mark": {"type": "rule", "color": "#222", "strokeWidth": 1.5},
     "encoding": {"x": {"datum": 0.345, "type": "quantitative"}, "y": {"datum": 0.63, "type": "quantitative"}, "y2": {"datum": 2.41}}},
    {"data": {"values": [{}]}, "mark": {"type": "rule", "color": "#222", "strokeWidth": 1.5},
     "encoding": {"x": {"datum": 0.345, "type": "quantitative"}, "x2": {"datum": 6.22}, "y": {"datum": 2.41, "type": "quantitative"}}},
    {"data": {"values": [{}]}, "mark": {"type": "text", "font": "Liberation Serif", "fontSize": 13, "align": "center", "baseline": "middle", "color": "#222"},
     "encoding": {"x": {"datum": 3.6, "type": "quantitative"}, "y": {"datum": 4, "type": "quantitative"}, "text": {"value": "patients at risk"}}}
   ]}
 ]},
 {"spacing": 1, "resolve": {"scale": {"color": "independent"}, "legend": {"color": "independent"}},
  "vconcat": [
  {"width": 254, "height": 168,
   "layer": [
    {"data": {"name": "km"}, "transform": [{"filter": "datum.p == 'D'"}],
     "mark": {"type": "line", "interpolate": "step-after", "strokeWidth": 1.5},
     "encoding": {
      "x": {"field": "t", "type": "quantitative", "scale": {"domain": [0, 250], "nice": false}, "axis": {"values": [0, 50, 100, 150, 200, 250], "title": "OS months", "labelOverlap": false, "labelFlush": false, "labelFont": "Liberation Serif", "labelFontWeight": "bold", "labelFontSize": 12, "titleFont": "Liberation Serif", "titleFontWeight": "bold", "titleFontSize": 13.5, "titlePadding": 5, "labelPadding": 2, "tickSize": 6}},
      "y": {"field": "s", "type": "quantitative", "scale": {"domain": [0, 100], "nice": false}, "axis": {"values": [0, 20, 40, 60, 80, 100], "tickCount": 6, "title": "OS % survival", "labelOverlap": false, "labelFlush": false, "labelFont": "Liberation Serif", "labelFontWeight": "bold", "labelFontSize": 12, "titleFont": "Liberation Serif", "titleFontWeight": "normal", "titleFontSize": 14, "titlePadding": -1, "labelPadding": 2, "tickSize": 7}},
      "color": {"field": "g", "type": "nominal", "scale": {"domain": ["Low", "High"], "range": ["#2a52ff", "#ff3b21"]}, "legend": {"orient": "none", "legendX": 168, "legendY": 97, "title": null, "symbolType": "stroke", "symbolSize": 324, "symbolStrokeWidth": 2, "labelFont": "Liberation Serif", "labelFontSize": 7.2, "labelColor": "#222", "rowPadding": 2, "padding": 0, "labelOffset": 8, "labelExpr": "datum.label == 'Low' ? 'CIB1 Low expression' : 'CIB1 High expression'"}}
     }},
    {"data": {"name": "cens"}, "transform": [{"filter": "datum.p == 'D'"}],
     "mark": {"type": "tick", "orient": "vertical", "color": "#111", "size": 5, "thickness": 1},
     "encoding": {"x": {"field": "t", "type": "quantitative"}, "y": {"field": "s", "type": "quantitative"}}},
    {"data": {"values": [{}]}, "mark": {"type": "text", "font": "Liberation Serif", "fontSize": 18, "fontWeight": "bold", "align": "center", "baseline": "middle", "color": "#000"},
     "encoding": {"x": {"datum": 134.8, "type": "quantitative"}, "y": {"datum": 116.5, "type": "quantitative"}, "text": {"value": "right-sided tumors"}}},
    {"data": {"values": [{}]}, "mark": {"type": "text", "font": "Liberation Serif", "fontSize": 16, "fontWeight": "bold", "align": "center", "baseline": "middle", "color": "#000"},
     "encoding": {"x": {"datum": 140.4, "type": "quantitative"}, "y": {"datum": 103.6, "type": "quantitative"}, "text": {"value": "OS"}}},
    {"data": {"values": [{}]}, "mark": {"type": "text", "font": "Liberation Serif", "fontSize": 13.5, "align": "left", "baseline": "middle", "color": "#111"},
     "encoding": {"x": {"datum": 11.5, "type": "quantitative"}, "y": {"datum": 6.3, "type": "quantitative"}, "text": {"value": "n=341"}}},
    {"data": {"values": [{}]}, "mark": {"type": "text", "font": "Liberation Serif", "fontSize": 13.5, "align": "right", "baseline": "middle", "color": "#111"},
     "encoding": {"x": {"datum": 244, "type": "quantitative"}, "y": {"datum": 4.9, "type": "quantitative"}, "text": {"value": "p= 0,0009"}}},
    {"data": {"values": [{}]}, "mark": {"type": "text", "font": "Liberation Sans", "fontSize": 17, "fontWeight": "bold", "align": "center", "baseline": "middle", "color": "#000"},
     "encoding": {"x": {"datum": -66, "type": "quantitative"}, "y": {"datum": 102, "type": "quantitative"}, "text": {"value": "D"}}}
   ]},
  {"width": 254, "height": 120,
   "layer": [
    {"data": {"name": "risk"}, "transform": [{"filter": "datum.p == 'D'"}],
     "mark": {"type": "text", "font": "Liberation Serif", "fontSize": 14, "align": "center", "baseline": "middle"},
     "encoding": {
      "x": {"field": "c", "type": "quantitative", "scale": {"domain": [0, 1, 2, 3, 4, 5, 6], "range": [-8, 21, 56, 97, 150, 201, 245], "nice": false, "zero": false}, "axis": null},
      "y": {"field": "r", "type": "quantitative", "scale": {"domain": [1, 2, 3, 4], "range": [15.5, 44.5, 75.5, 100.5], "nice": false, "zero": false}, "axis": null},
      "color": {"field": "row", "type": "nominal", "scale": {"domain": ["Low", "High", "time"], "range": ["#2f58ff", "#ff3b21", "#222"]}, "legend": null},
      "text": {"field": "n", "type": "nominal"}}},
    {"data": {"name": "risk"}, "transform": [{"filter": "datum.p == 'D' && datum.c == 1 && datum.row != 'time'"}],
     "mark": {"type": "text", "font": "Liberation Serif", "fontSize": 14, "align": "right", "baseline": "middle"},
     "encoding": {"x": {"datum": 0, "type": "quantitative"}, "y": {"field": "r", "type": "quantitative"}, "color": {"field": "row", "type": "nominal", "legend": null}, "text": {"field": "row", "type": "nominal"}}},
    {"data": {"values": [{}]}, "mark": {"type": "rule", "color": "#222", "strokeWidth": 1.5},
     "encoding": {"x": {"datum": 0.345, "type": "quantitative"}, "y": {"datum": 0.63, "type": "quantitative"}, "y2": {"datum": 2.41}}},
    {"data": {"values": [{}]}, "mark": {"type": "rule", "color": "#222", "strokeWidth": 1.5},
     "encoding": {"x": {"datum": 0.345, "type": "quantitative"}, "x2": {"datum": 6.22}, "y": {"datum": 2.41, "type": "quantitative"}}},
    {"data": {"values": [{}]}, "mark": {"type": "text", "font": "Liberation Serif", "fontSize": 13, "align": "center", "baseline": "middle", "color": "#222"},
     "encoding": {"x": {"datum": 3.6, "type": "quantitative"}, "y": {"datum": 4, "type": "quantitative"}, "text": {"value": "patients at risk"}}}
   ]}
 ]}
], "spacing": 47, "resolve": {"scale": {"color": "independent"}, "legend": {"color": "independent"}}}
]
}
